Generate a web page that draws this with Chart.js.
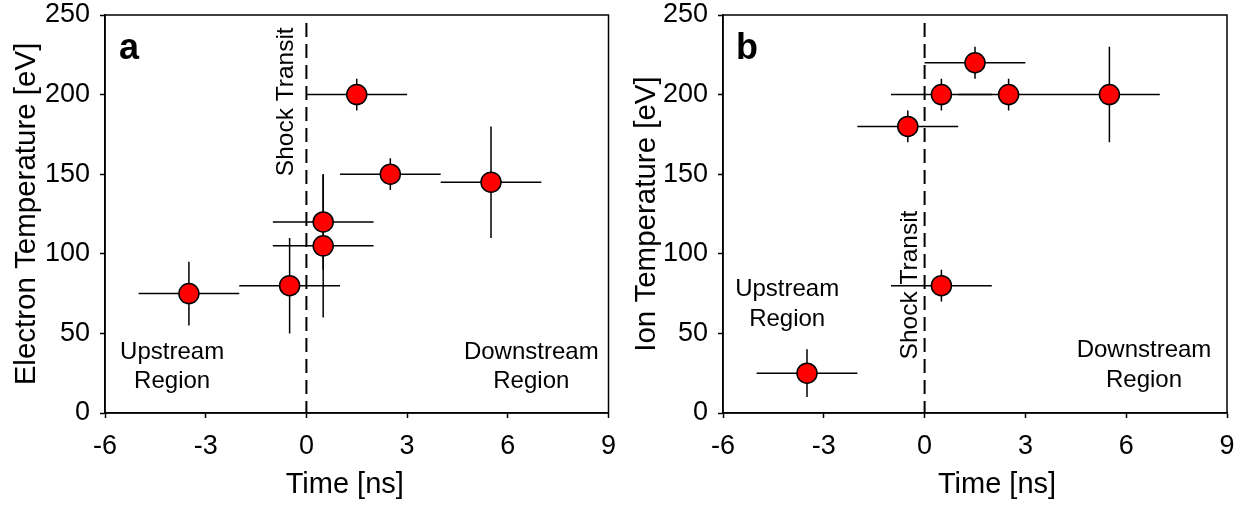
<!DOCTYPE html>
<html>
<head>
<meta charset="utf-8">
<script src="https://cdn.jsdelivr.net/npm/chart.js@4.4.0/dist/chart.umd.min.js"></script>
<style>
  body { margin: 0; background: #fff; }
  #wrap { display: flex; width: 1247px; height: 508px; }
  canvas { display: block; }
</style>
</head>
<body>
<div id="wrap">
  <canvas id="electronChart" width="620" height="508"></canvas>
  <canvas id="ionChart" width="627" height="508"></canvas>
</div>
<script>
// tick labels
const timeTicks = [-6, -3, 0, 3, 6, 9];
const tempTicks = [0, 50, 100, 150, 200, 250];

// panel a: electron temperature
const electronTime = [-3.5, -0.5, 0.5, 0.5, 1.5, 2.5, 5.5];
const electronTemp = [75, 80, 120, 105, 200, 150, 145];
const electronTimeErr = [1.5, 1.5, 1.5, 1.5, 1.5, 1.5, 1.5];
const electronTempErr = [20, 30, 30, 45, 10, 10, 35];

// panel b: ion temperature
const ionTime = [-3.5, -0.5, 0.5, 1.5, 2.5, 5.5, 0.5];
const ionTemp = [25, 180, 200, 220, 200, 200, 80];
const ionTimeErr = [1.5, 1.5, 1.5, 1.5, 1.5, 1.5, 1.5];
const ionTempErr = [15, 10, 10, 10, 10, 30, 10];

const FONT = '"Liberation Sans", Arial, sans-serif';

// error bars, shock line, frame and labels
const panelPlugin = {
  id: 'panelDecor',
  beforeDatasetsDraw(chart) {
    const ctx = chart.ctx;
    const xs = chart.scales.x, ys = chart.scales.y;
    const area = chart.chartArea;
    const o = chart.options.plugins.panelDecor;

    ctx.save();
    // frame
    ctx.strokeStyle = '#000';
    ctx.lineWidth = 1.5;
    ctx.strokeRect(area.left, area.top, area.right - area.left, area.bottom - area.top);

    // shock transit line
    const x0 = xs.getPixelForValue(0);
    ctx.setLineDash([14, 7]);
    ctx.lineWidth = 2;
    ctx.beginPath();
    ctx.moveTo(x0, area.top + 8);
    ctx.lineTo(x0, area.bottom);
    ctx.stroke();
    ctx.setLineDash([]);

    // error bars
    ctx.lineWidth = 1.5;
    o.xVals.forEach((xv, i) => {
      const yv = o.yVals[i];
      const px = xs.getPixelForValue(xv), py = ys.getPixelForValue(yv);
      ctx.beginPath();
      ctx.moveTo(xs.getPixelForValue(xv - o.xErr[i]), py);
      ctx.lineTo(xs.getPixelForValue(xv + o.xErr[i]), py);
      ctx.moveTo(px, ys.getPixelForValue(yv - o.yErr[i]));
      ctx.lineTo(px, ys.getPixelForValue(yv + o.yErr[i]));
      ctx.stroke();
    });

    // texts
    ctx.fillStyle = '#000';
    ctx.textAlign = 'center';
    ctx.textBaseline = 'middle';
    ctx.font = 'bold 36px ' + FONT;
    ctx.fillText(o.letter, area.left + 24, area.top + 34);

    ctx.font = '24px ' + FONT;
    [o.upstream, o.downstream].forEach(t => {
      const px = xs.getPixelForValue(t.x);
      t.lines.forEach((s, k) => ctx.fillText(s, px, ys.getPixelForValue(t.y[k])));
    });

    // x axis title
    ctx.font = '29px ' + FONT;
    ctx.fillText('Time [ns]', (area.left + area.right) / 2 + o.titleShift, 485);

    ctx.save();
    ctx.translate(x0 + o.shockOffset, ys.getPixelForValue(o.shockY));
    ctx.rotate(-Math.PI / 2);
    ctx.font = '24.5px ' + FONT;
    ctx.fillText('Shock Transit', 0, 0);
    ctx.restore();

    ctx.restore();
  }
};

function makeChart(id, xVals, yVals, xErr, yErr, yTitle, yWidth, rightPad, decor) {
  return new Chart(document.getElementById(id), {
    type: 'scatter',
    data: {
      datasets: [{
        data: xVals.map((x, i) => ({ x: x, y: yVals[i] })),
        backgroundColor: '#ff0000',
        borderColor: '#000',
        borderWidth: 1.5,
        pointRadius: 10,
        pointHoverRadius: 10
      }]
    },
    options: {
      responsive: false,
      animation: false,
      layout: { padding: { top: 15, right: rightPad, bottom: 0, left: 0 } },
      plugins: {
        legend: { display: false },
        tooltip: { enabled: false },
        panelDecor: Object.assign({ xVals, yVals, xErr, yErr }, decor)
      },
      scales: {
        x: {
          type: 'linear', min: -6, max: 9,
          afterBuildTicks: s => { s.ticks = timeTicks.map(v => ({ value: v })); },
          afterFit: s => { s.height = 95; s.paddingLeft = 0; s.paddingRight = 0; },
          grid: { drawOnChartArea: false, drawTicks: true, tickLength: 5, tickColor: '#000', tickWidth: 1.5 },
          border: { color: '#000', width: 1.5 },
          ticks: { color: '#000', font: { family: FONT, size: 27 }, padding: 12, maxRotation: 0 }
        },
        y: {
          type: 'linear', min: 0, max: 250,
          afterBuildTicks: s => { s.ticks = tempTicks.map(v => ({ value: v })); },
          afterFit: s => { s.width = yWidth; s.paddingTop = 0; s.paddingBottom = 0; },
          grid: { drawOnChartArea: false, drawTicks: true, tickLength: 5, tickColor: '#000', tickWidth: 1.5 },
          border: { color: '#000', width: 1.5 },
          ticks: { color: '#000', font: { family: FONT, size: 27 }, padding: 10 },
          title: { display: true, text: yTitle, color: '#000', font: { family: FONT, size: 29.5 }, padding: { top: 9, bottom: 0 } }
        }
      }
    },
    plugins: [panelPlugin]
  });
}

makeChart('electronChart', electronTime, electronTemp, electronTimeErr, electronTempErr,
  'Electron Temperature [eV]', 105, 10, {
    letter: 'a', shockOffset: -20.5, shockY: 195.5, titleShift: -12,
    upstream: { x: -4, y: [38.3, 20.1], lines: ['Upstream', 'Region'] },
    downstream: { x: 6.7, y: [38.3, 20.1], lines: ['Downstream', 'Region'] }
  });

makeChart('ionChart', ionTime, ionTemp, ionTimeErr, ionTempErr,
  'Ion Temperature [eV]', 103, 20, {
    letter: 'b', shockOffset: -14, shockY: 80.4, titleShift: 22,
    upstream: { x: -4.09, y: [77.6, 58.8], lines: ['Upstream', 'Region'] },
    downstream: { x: 6.53, y: [39.3, 20.5], lines: ['Downstream', 'Region'] }
  });
</script>
</body>
</html>
